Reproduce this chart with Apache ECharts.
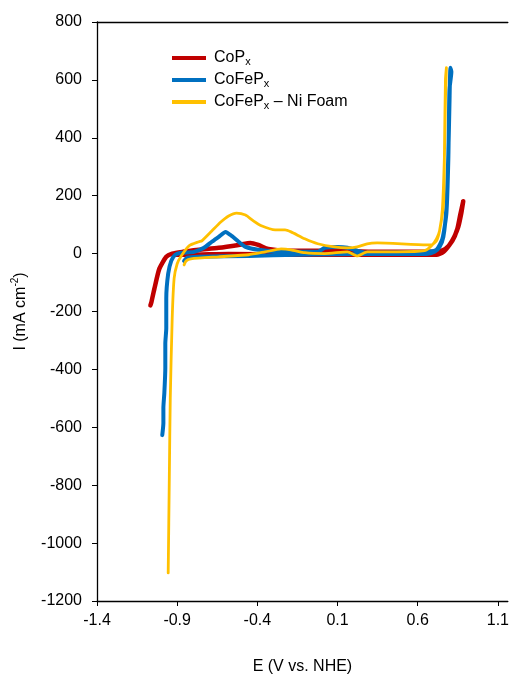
<!DOCTYPE html>
<html>
<head>
<meta charset="utf-8">
<script src="https://cdn.jsdelivr.net/npm/echarts@6/dist/echarts.min.js"></script>
<style>
html,body{margin:0;padding:0;background:#fff;}
#chart{width:512px;height:680px;}
</style>
</head>
<body>
<div id="chart"></div>
<script>
// ---- Data (E in V vs. NHE, I in mA cm^-2) ----
var seriesNames = ['CoPx', 'CoFePx', 'CoFePx – Ni Foam'];
var xTickLabels = ['-1.4', '-0.9', '-0.4', '0.1', '0.6', '1.1'];

var copE = [-0.919,-0.826,-0.579,-0.147,0.470,0.717,0.760,0.798,0.828,0.853,0.872,0.884,
  0.865,0.847,0.816,0.773,0.717,0.656,0.347,0.038,-0.209,-0.332,-0.394,-0.443,-0.517,-0.641,-0.764,-0.869,-0.931,-0.968,-1.011,-1.042,-1.060,-1.067];
var copI = [-4,-4,-1,-4,-4,-4,6,30,58,92,140,181,
  133,85,44,16,6,6,6,10,10,16,30,37,30,20,13,6,0,-11,-52,-121,-166,-179];

var cofepE = [-0.857,-0.838,-0.764,-0.456,-0.147,0.285,0.656,0.705,0.736,0.760,0.779,0.791,0.798,0.804,0.810,
  0.798,0.791,0.779,0.754,0.717,0.656,0.285,0.223,0.162,0.100,0.020,-0.023,-0.209,-0.394,-0.474,-0.517,-0.560,-0.598,-0.641,-0.684,-0.733,-0.795,-0.875,-0.912,-0.937,-0.956,-0.968,-0.968,-0.974,-0.974,-0.980,-0.986,-0.986,-0.993];
var cofepI = [-25,-14,-11,-8,-4,-1,-1,6,23,58,160,343,515,642,628,
  566,326,140,51,13,6,3,10,20,23,20,6,6,13,23,41,61,75,58,41,20,6,3,-4,-25,-69,-155,-258,-311,-395,-481,-533,-585,-627];

var niE = [-0.857,-0.844,-0.814,-0.641,-0.456,-0.351,-0.252,-0.190,-0.104,0.020,0.162,0.223,0.285,0.470,0.643,0.686,0.717,0.736,0.754,0.767,0.773,0.779,
  0.773,0.767,0.761,0.736,0.717,0.686,0.656,0.347,0.285,0.223,0.162,0.081,-0.023,-0.104,-0.190,-0.227,-0.289,-0.375,-0.425,-0.474,-0.530,-0.579,-0.628,-0.684,-0.746,-0.764,-0.826,-0.875,-0.900,-0.919,-0.931,-0.943,-0.949,-0.956];
var niI = [-39,-25,-18,-11,-4,6,16,13,3,0,6,-8,6,6,10,27,51,78,154,343,532,642,
  601,360,171,78,44,30,30,37,34,23,20,23,34,51,75,82,82,96,113,133,140,130,109,78,44,41,27,-8,-35,-86,-223,-498,-773,-1103];

// ---- Build chart ----
var X0 = -1.4; // axis shifted so min is a multiple of the interval
function pairs(E, I) { return E.map(function (e, i) { return [e - X0, I[i]]; }); }

var FONT = 'Liberation Sans';
var FS = 16;
var colors = ['#C00000', '#0070C0', '#FFC000'];
var widths = [4.5, 4, 2.8];
var legendRich = {
  'CoPx': 'CoP{sub|x}',
  'CoFePx': 'CoFeP{sub|x}',
  'CoFePx – Ni Foam': 'CoFeP{sub|x} – Ni Foam'
};
var data = [pairs(copE, copI), pairs(cofepE, cofepI), pairs(niE, niI)];

var chart = echarts.init(document.getElementById('chart'), null, {renderer: 'canvas'});
chart.setOption({
  animation: false,
  backgroundColor: '#fff',
  grid: {left: 97, right: 0, top: 22, bottom: 76, containLabel: false},
  legend: {
    orient: 'vertical', left: 167, top: 44, itemGap: 4,
    itemWidth: 34, itemHeight: 4, icon: 'rect',
    data: seriesNames,
    formatter: function (n) { return legendRich[n]; },
    textStyle: {
      fontFamily: FONT, fontSize: FS, color: '#000', lineHeight: 18, padding: [0, 0, 0, 3],
      rich: {sub: {fontFamily: FONT, fontSize: 11, lineHeight: 10, verticalAlign: 'bottom', color: '#000'}}
    }
  },
  xAxis: [{
    type: 'value', min: 0, max: 2.562, interval: 0.5,
    name: 'E (V vs. NHE)', nameLocation: 'middle', nameGap: 58,
    nameTextStyle: {fontFamily: FONT, fontSize: FS, color: '#000'},
    axisLine: {onZero: false, lineStyle: {color: '#000', width: 1.3}},
    axisTick: {show: true, length: 5, lineStyle: {color: '#000'}, customValues: [0, 0.5, 1, 1.5, 2, 2.5]},
    axisLabel: {
      fontFamily: FONT, fontSize: FS, color: '#000', margin: 12,
      customValues: [0, 0.5, 1, 1.5, 2, 2.5],
      formatter: function (v) { return xTickLabels[Math.round(v / 0.5)] || ''; }
    },
    splitLine: {show: false}
  }, {
    type: 'value', min: 0, max: 2.562, position: 'top',
    axisLine: {show: true, onZero: false, lineStyle: {color: '#000', width: 1.3}},
    axisTick: {show: false}, axisLabel: {show: false}, splitLine: {show: false}
  }],
  yAxis: {
    type: 'value', min: -1200, max: 800, interval: 200,
    name: 'I (mA cm{sup|-2})', nameLocation: 'middle', nameGap: 63,
    nameTextStyle: {
      fontFamily: FONT, fontSize: FS, color: '#000', lineHeight: 20,
      rich: {sup: {fontFamily: FONT, fontSize: 10, lineHeight: 10, verticalAlign: 'top', color: '#000'}}
    },
    axisLine: {show: true, onZero: false, lineStyle: {color: '#000', width: 1.3}},
    axisTick: {show: true, length: 5, lineStyle: {color: '#000'}},
    axisLabel: {fontFamily: FONT, fontSize: FS, color: '#000', margin: 15,
      formatter: function (v) { return String(v); }},
    splitLine: {show: false}
  },
  series: seriesNames.map(function (n, k) {
    return {
      name: n, type: 'line', data: data[k], symbol: 'none', smooth: 0.2,
      lineStyle: {color: colors[k], width: widths[k], cap: 'round', join: 'round'},
      itemStyle: {color: colors[k]},
      xAxisIndex: 0, z: 2 + k
    };
  })
});
</script>
</body>
</html>
